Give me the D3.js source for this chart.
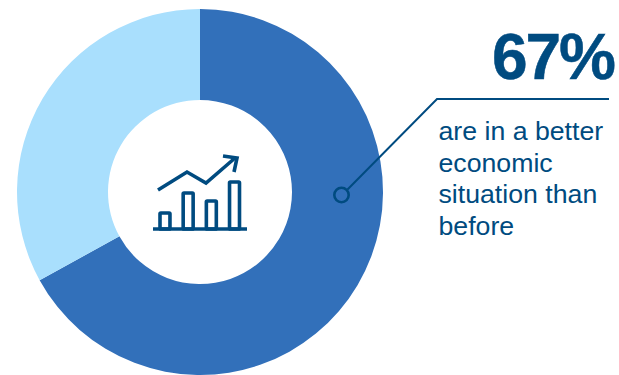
<!DOCTYPE html>
<html>
<head>
<meta charset="utf-8">
<script src="https://cdn.jsdelivr.net/npm/d3@7"></script>
<style>
html,body{margin:0;padding:0;background:#fff;overflow:hidden}
svg{display:block}
text{font-family:"Liberation Sans",Arial,sans-serif}
</style>
</head>
<body>
<svg id="chart" width="619" height="375"></svg>
<script>
const categories = ["Better", "Not better"];
const shares = [67, 33];
const sliceColors = ["#3270BA", "#A9DFFD"];
const headline = "67%";
const captionLines = ["are in a better", "economic", "situation than", "before"];
const iconBars = [16, 36, 28, 47];
const iconTrend = [[0, 0], [29, 18], [48, 7], [77, 32]];

const ink = "#004B80";
const svg = d3.select("#chart");
const cx = 200, cy = 192, outer = 183, inner = 92;

// Donut
const pie = d3.pie().sort(null).value(d => d)(shares);
const arc = d3.arc().innerRadius(inner).outerRadius(outer);
svg.append("g").attr("transform", `translate(${cx},${cy})`)
  .selectAll("path").data(pie).join("path")
  .attr("d", arc)
  .attr("fill", (d, i) => sliceColors[i])
  .append("title").text((d, i) => categories[i]);

// Growth icon in the donut hole
const icon = svg.append("g").attr("fill", "none").attr("stroke", ink);
const barX = d3.scaleBand().domain(d3.range(iconBars.length)).range([160, 239.5]).paddingInner(0.57).paddingOuter(0);
const barY = d3.scaleLinear().domain([0, 47]).range([229, 182]);
icon.selectAll("rect").data(iconBars).join("rect")
  .attr("x", (d, i) => barX(i))
  .attr("y", d => barY(d))
  .attr("width", barX.bandwidth())
  .attr("height", d => barY(0) - barY(d))
  .attr("stroke-width", 3.6)
  .attr("rx", 0.8);
icon.append("line").attr("x1", 153).attr("x2", 247).attr("y1", 229).attr("y2", 229).attr("stroke-width", 3.6);
const trendX = d3.scaleLinear().domain([0, 77]).range([158, 235]);
const trendY = d3.scaleLinear().domain([0, 32]).range([190, 158]);
icon.append("path")
  .attr("d", d3.line().x(d => trendX(d[0])).y(d => trendY(d[1]))(iconTrend))
  .attr("stroke-width", 3.6);
icon.append("path")
  .attr("d", "M223,156L237,158L234,172")
  .attr("stroke-width", 3.6);

// Callout leader
const callout = svg.append("g");
callout.append("path")
  .attr("d", "M347.5,189.5L437,99H609")
  .attr("fill", "none").attr("stroke", ink).attr("stroke-width", 2);
callout.append("circle")
  .attr("cx", 341.5).attr("cy", 195).attr("r", 7.2)
  .attr("fill", "none").attr("stroke", ink).attr("stroke-width", 2.6);

// Headline and caption
svg.append("text").attr("x", 614).attr("y", 79)
  .attr("text-anchor", "end").attr("font-size", 64).attr("font-weight", 700)
  .attr("fill", ink).attr("letter-spacing", -2).attr("stroke", ink).attr("stroke-width", 0.5).text(headline);
svg.append("g").selectAll("text").data(captionLines).join("text")
  .attr("x", 438.5).attr("y", (d, i) => 140 + i * 31.7)
  .attr("font-size", 26.7).attr("fill", ink).text(d => d);
</script>
</body>
</html>
